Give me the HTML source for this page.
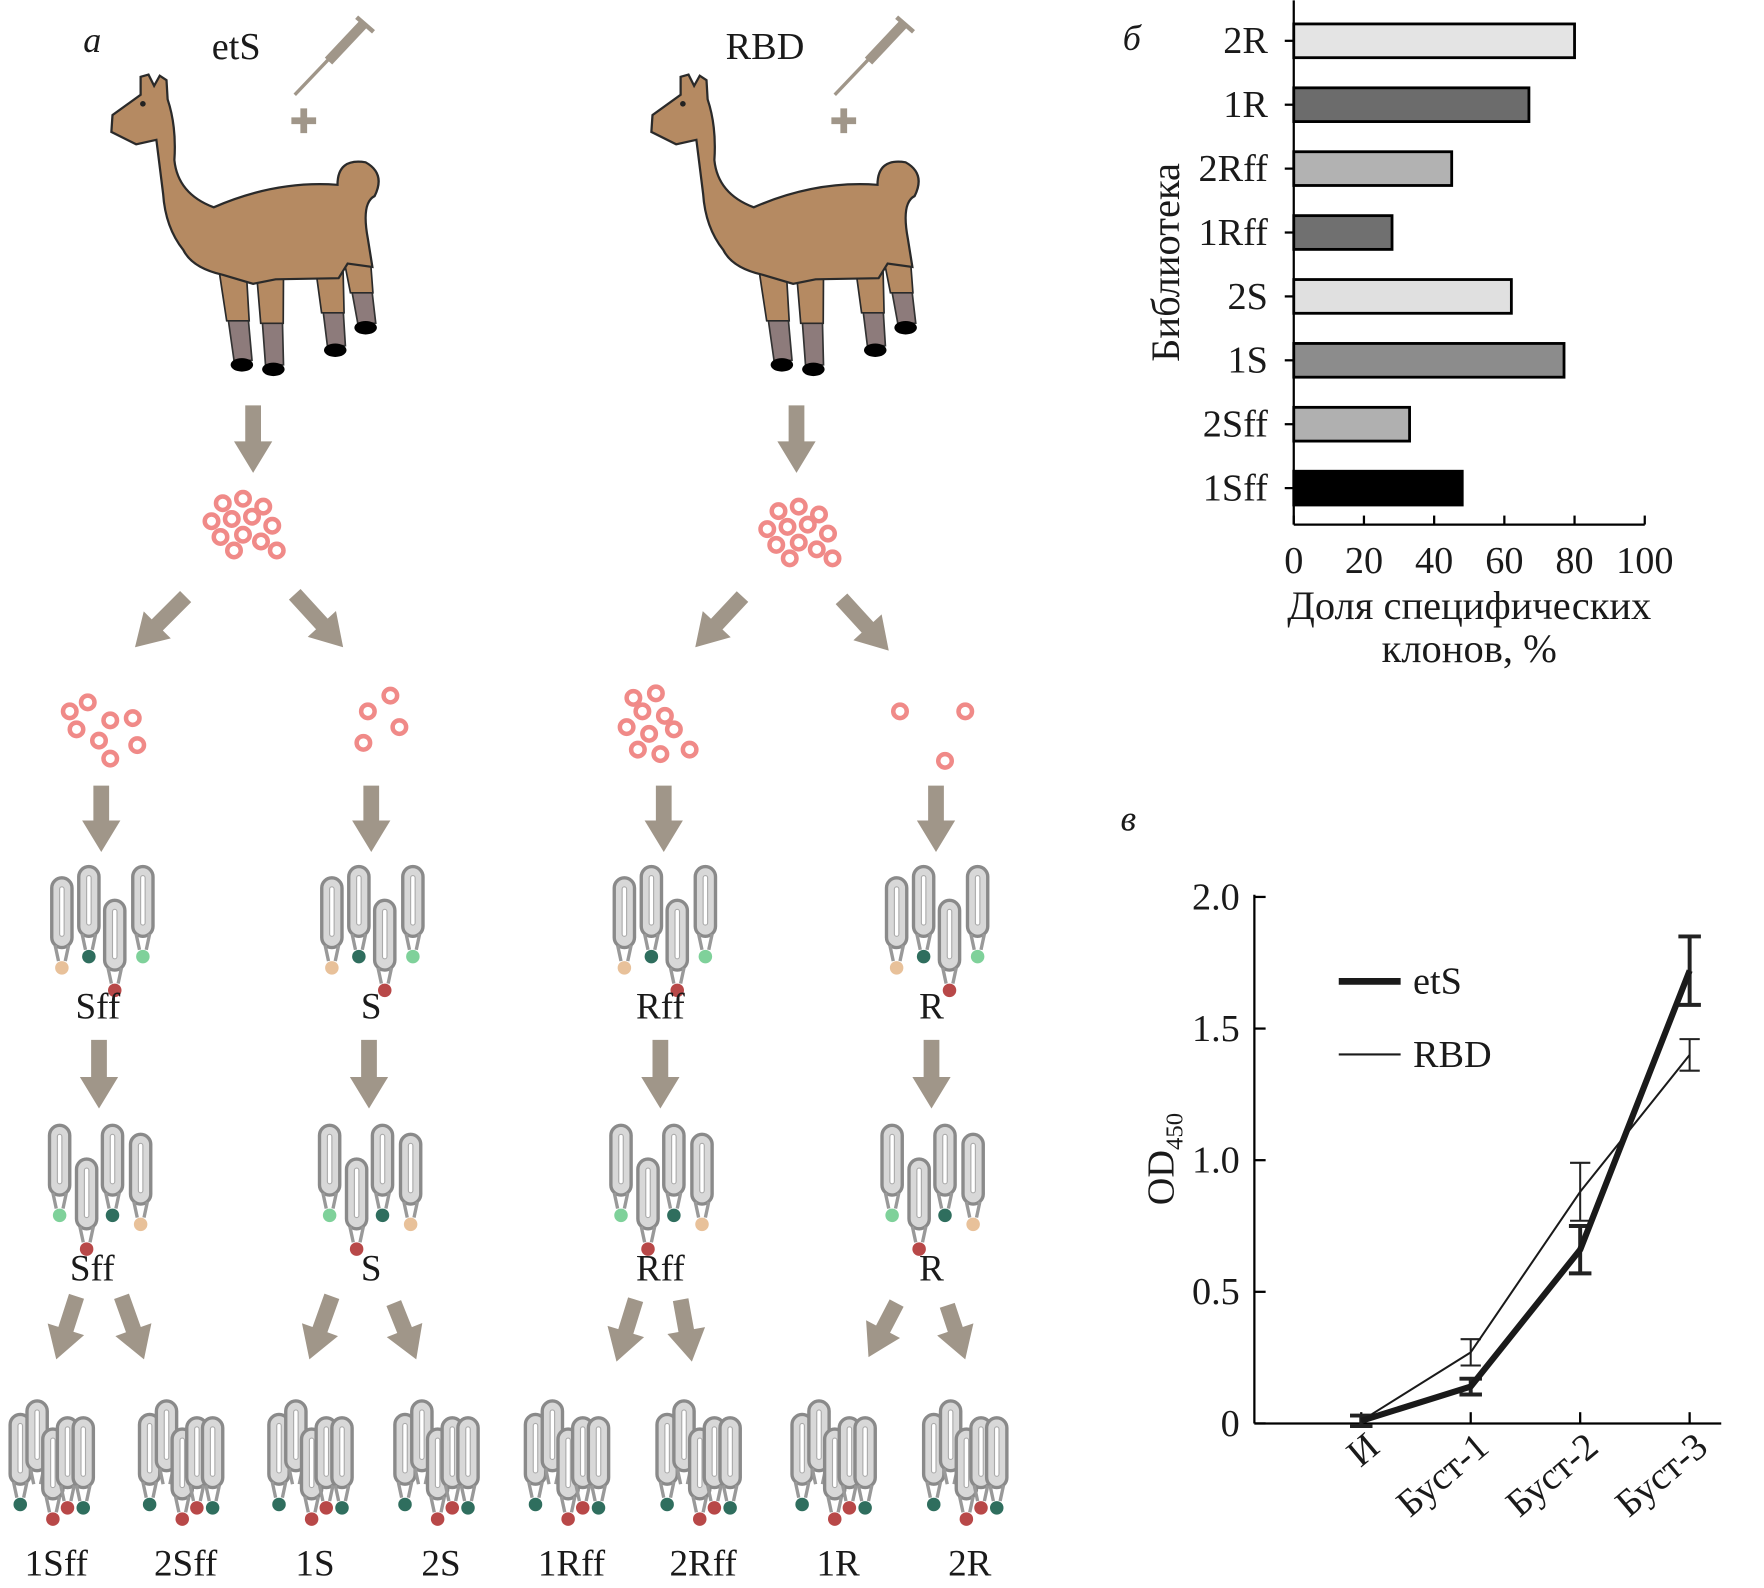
<!DOCTYPE html>
<html><head><meta charset="utf-8"><style>
html,body{margin:0;padding:0;background:#fff}
svg{display:block}
text{font-family:"Liberation Serif",serif;fill:#1a1a1a}
</style></head><body>
<svg id="s" width="1764" height="1588" viewBox="0 0 1568 1411" xmlns="http://www.w3.org/2000/svg">
<g id="schema"></g>
<g id="bars"></g>
<g id="lines"></g>
</svg>
<script>
// ---- bar chart data ----
const libs = ["2R","1R","2Rff","1Rff","2S","1S","2Sff","1Sff"];
const libValues = [80,67,45,28,62,77,33,48];
const libColors = ["#e4e4e4","#6c6c6c","#b2b2b2","#707070","#e0e0e0","#8c8c8c","#b0b0b0","#000000"];
const barTicks = [0,20,40,60,80,100];
// ---- line chart data ----
const stages = ["И","Буст-1","Буст-2","Буст-3"];
const etsValues = [0.01,0.14,0.66,1.72];
const etsErr = [0.02,0.03,0.09,0.13];
const rbdValues = [0.01,0.27,0.88,1.40];
const rbdErr = [0.02,0.05,0.11,0.06];
const odTicks = [0,0.5,1.0,1.5,2.0];
const odTickLabels = ["0","0.5","1.0","1.5","2.0"];

const NS="http://www.w3.org/2000/svg";
function mk(parent,tag,attrs,txt){const el=document.createElementNS(NS,tag);for(const k in attrs)el.setAttribute(k,attrs[k]);if(txt!==undefined)el.textContent=txt;parent.appendChild(el);return el;}

// ===== schema =====
const S=document.getElementById('schema');
const ARW="#a09689";
function text(x,y,t,size,name,anchor,style){const el=mk(S,'text',{x:x,y:y,'font-size':size,'text-anchor':anchor||'middle'},t);if(style)el.setAttribute('font-style',style);

return el;}
function arrow(x1,y1,x2,y2,name){
  const dx=x2-x1,dy=y2-y1,L=Math.hypot(dx,dy),ux=dx/L,uy=dy/L,px=-uy,py=ux;
  const sw=7,hw=17,hl=28;const bx=x2-ux*hl,by=y2-uy*hl;
  const pts=[[x1+px*sw,y1+py*sw],[bx+px*sw,by+py*sw],[bx+px*hw,by+py*hw],[x2,y2],[bx-px*hw,by-py*hw],[bx-px*sw,by-py*sw],[x1-px*sw,y1-py*sw]];
  const el=mk(S,'polygon',{points:pts.map(p=>p.join(',')).join(' '),fill:ARW});
  
  
}
function llama(ox,oy,name){
  const g=mk(S,'g',{transform:`translate(${ox},${oy})`});
  
  
  const legs=[[112,180,122,258],[145,180,150,262],[198,180,205,245],[222,165,232,225]];
  legs.forEach(l=>{
    mk(g,'path',{d:`M${l[0]-10} ${l[1]} L${l[2]-9} ${l[3]} L${l[2]+7} ${l[3]} L${l[0]+10} ${l[1]}Z`,fill:'#8d7b7b',stroke:'#333','stroke-width':1.5});
    const my=l[1]+(l[3]-l[1])*0.55, mx=l[0]+(l[2]-l[0])*0.55;
    mk(g,'path',{d:`M${l[0]-12} ${l[1]} L${mx-11} ${my} L${mx+9} ${my} L${l[0]+12} ${l[1]}Z`,fill:'#b58a62',stroke:'#2a2a2a','stroke-width':1.5});
    mk(g,'ellipse',{cx:l[2]-2,cy:l[3]+4,rx:10,ry:6,fill:'#000'});});
  mk(g,'path',{d:"M5 40 L30 22 L30 6 L37 4 L42 14 L47 5 L53 9 L54 26 Q62 50 60 80 Q63 110 95 122 Q150 98 205 102 Q205 78 230 82 Q248 92 238 112 Q226 118 232 150 L236 175 L214 172 L206 185 L150 186 L130 190 L103 182 Q76 176 68 160 Q52 140 50 110 L44 62 L26 66 L4 55 Z",fill:'#b58a62',stroke:'#2a2a2a','stroke-width':2});
  mk(g,'circle',{cx:32,cy:30,r:2.5,fill:'#222'});
}
function syringe(x,y,name){
  const g=mk(S,'g',{transform:`translate(${x},${y})`});
  
  
  mk(g,'line',{x1:0,y1:72,x2:40,y2:30,stroke:ARW,'stroke-width':3});
  mk(g,'line',{x1:30,y1:42,x2:62,y2:8,stroke:ARW,'stroke-width':9});
  mk(g,'line',{x1:55,y1:3,x2:70,y2:16,stroke:ARW,'stroke-width':4});
  mk(g,'path',{d:"M-3 95 h22 M8 84 v22",stroke:ARW,'stroke-width':6});
}
function cells(pts,cx,cy,name){
  const g=mk(S,'g',{transform:`translate(${cx},${cy})`});
  
  
  pts.forEach(p=>{mk(g,'circle',{cx:p[0],cy:p[1],r:6,fill:'none',stroke:'#f08a88','stroke-width':4});});
}
const bigCluster=[[-18,-18],[0,-22],[18,-15],[-28,-2],[-10,-4],[8,-6],[26,2],[-20,12],[0,10],[16,16],[-8,24],[30,24]];
function abGroup(cx,cy,spec,name){
  const g=mk(S,'g',{transform:`translate(${cx},${cy})`});
  
  
  spec.forEach(s=>{const [x,y,c]=s;
    mk(g,'rect',{x:x-9,y:y,width:18,height:62,rx:9,fill:'#d8d8d8',stroke:'#8a8a8a','stroke-width':3});
    mk(g,'rect',{x:x-2,y:y+8,width:4,height:44,rx:2,fill:'#fff',stroke:'#aaa','stroke-width':1});
    mk(g,'path',{d:`M${x-6} ${y+60} L${x-3} ${y+74} M${x+6} ${y+60} L${x+3} ${y+74}`,stroke:'#999','stroke-width':3});
    if(c)mk(g,'circle',{cx:x,cy:y+80,r:6,fill:c});});
}
const TAN="#e8c19a",DG="#2f6e5e",LG="#7fd19a",RD="#b84848";
const ab1=[[-27,10,TAN],[-3,0,DG],[20,30,RD],[45,0,LG]];
const ab2=[[-27,0,LG],[-3,30,RD],[20,0,DG],[45,8,TAN]];
function ab3(){return [[-30,12,DG],[-15,0,null],[-1,25,RD],[12,15,RD],[26,15,DG]];}

text(82,46,'а',32,'panel-a-label','middle','italic');
text(210,52,'etS',34,'ets-title');
text(680,52,'RBD',34,'rbd-title');
llama(95,62,'llama-ets');llama(575,62,'llama-rbd');
syringe(262,12,'syringe-ets');syringe(742,12,'syringe-rbd');
arrow(225,360,225,420,'arrow-down');arrow(708,360,708,420,'arrow-down');
cells(bigCluster,216,465,'b-cells-ets');cells(bigCluster,710,472,'b-cells-rbd');
arrow(165,530,120,575,'arrow-split');arrow(262,528,305,575,'arrow-split');
arrow(660,530,618,575,'arrow-split');arrow(748,532,790,578,'arrow-split');
cells([[-28,-18],[-12,-26],[8,-10],[28,-12],[-22,-2],[-2,8],[32,12],[8,24]],90,650,'cells-sff');
cells([[12,-32],[-8,-18],[20,-4],[-12,10]],335,650,'cells-s');
cells([[-22,-30],[-2,-34],[-14,-18],[6,-14],[-28,-4],[-8,2],[14,-2],[-18,16],[2,20],[28,16]],585,650,'cells-rff');
cells([[-30,-18],[28,-18],[10,26]],830,650,'cells-r');
const cx4=[90,330,590,832];
cx4.forEach(x=>arrow(x,698,x,757,'arrow-down'));
cx4.forEach(x=>abGroup(x-8,770,ab1,'antibody-library-1'));
const libNames1=['Sff','S','Rff','R'],lblX1=[87,330,587,828];
libNames1.forEach((t,i)=>text(lblX1[i],905,t,33,'label-'+t));
const cx5=[88,328,587,828];
cx5.forEach(x=>arrow(x,924,x,985,'arrow-down'));
cx5.forEach(x=>abGroup(x-8,1000,ab2,'antibody-library-2'));
const lblX2=[82,330,587,828];
libNames1.forEach((t,i)=>text(lblX2[i],1138,t,33,'label-'+t+'-2'));
[[68,1152,50,1208],[108,1152,128,1208],[295,1152,275,1208],[350,1158,370,1208],[565,1155,548,1210],[605,1155,615,1210],[797,1158,772,1206],[842,1160,858,1208]].forEach(a=>arrow(a[0],a[1],a[2],a[3],'arrow-diag'));
const fx=[50,165,280,392,508,625,745,862];
const fl=['1Sff','2Sff','1S','2S','1Rff','2Rff','1R','2R'];
fx.forEach((x,i)=>{abGroup(x-2,1245,ab3(),'final-library-'+fl[i]);text(x,1400,fl[i],33,'label-'+fl[i]);});

// ===== bar chart =====
const B=document.getElementById('bars');
const bx0=1150,bx1=1462,yTop=0,yBot=466;
const xb=v=>bx0+(bx1-bx0)*v/100;
const rowY=i=>36+i*56.8;
let e;
e=mk(B,'line',{x1:bx0,y1:yTop,x2:bx0,y2:yBot,stroke:'#000','stroke-width':2});


e=mk(B,'line',{x1:bx0,y1:yBot,x2:bx1,y2:yBot,stroke:'#000','stroke-width':2});


barTicks.forEach(t=>{mk(B,'line',{x1:xb(t),y1:yBot,x2:xb(t),y2:yBot-8,stroke:'#000','stroke-width':2});
  e=mk(B,'text',{x:xb(t),y:509,'font-size':34,'text-anchor':'middle'},t);
  
  });
libs.forEach((l,i)=>{const y=rowY(i);
  mk(B,'line',{x1:bx0-8,y1:y,x2:bx0,y2:y,stroke:'#000','stroke-width':2});
  e=mk(B,'rect',{x:bx0,y:y-15,width:xb(libValues[i])-bx0,height:30,fill:libColors[i],stroke:'#000','stroke-width':2.5});
  
  
  e=mk(B,'text',{x:1127,y:y+11,'font-size':34,'text-anchor':'end'},l);
  
  });
e=mk(B,'text',{x:998,y:44,'font-size':32,'font-style':'italic'},'б');


e=mk(B,'text',{x:0,y:0,'font-size':36,'text-anchor':'middle',transform:'translate(1048,233) rotate(-90)'},'Библиотека');


e=mk(B,'text',{x:1306,y:550,'font-size':36,'text-anchor':'middle'},'Доля специфических');


e=mk(B,'text',{x:1306,y:588,'font-size':36,'text-anchor':'middle'},'клонов, %');



// ===== line chart =====
const Lg=document.getElementById('lines');
const lx0=1115,lx1=1530,ly0=1265,ly1=797;
const yl=v=>ly0-(ly0-ly1)*v/2.0;
const xl=i=>1210+i*97.3;
e=mk(Lg,'line',{x1:lx0,y1:ly1-2,x2:lx0,y2:ly0,stroke:'#000','stroke-width':2});


e=mk(Lg,'line',{x1:lx0,y1:ly0,x2:lx1,y2:ly0,stroke:'#000','stroke-width':2});


odTicks.forEach((t,i)=>{mk(Lg,'line',{x1:lx0,y1:yl(t),x2:lx0+10,y2:yl(t),stroke:'#000','stroke-width':2});
  e=mk(Lg,'text',{x:1102,y:yl(t)+11,'font-size':34,'text-anchor':'end'},odTickLabels[i]);
  
  });
stages.forEach((s,i)=>{mk(Lg,'line',{x1:xl(i),y1:ly0,x2:xl(i),y2:ly0-10,stroke:'#000','stroke-width':2});
  e=mk(Lg,'text',{x:0,y:0,'font-size':34,'text-anchor':'end',transform:`translate(${xl(i)+18},${ly0+24}) rotate(-40)`},s);
  
  });
function series(vals,errs,w,cap,name){
  const d=vals.map((v,i)=>(i?'L':'M')+xl(i)+' '+yl(v)).join(' ');
  errs.forEach((er,i)=>{const x=xl(i);
    mk(Lg,'path',{d:`M${x} ${yl(vals[i]-er)} V${yl(vals[i]+er)} M${x-cap} ${yl(vals[i]-er)} h${2*cap} M${x-cap} ${yl(vals[i]+er)} h${2*cap}`,stroke:'#222','stroke-width':w>3?3.5:1.8,fill:'none'});});
  const p=mk(Lg,'path',{d:d,stroke:'#1a1a1a','stroke-width':w,fill:'none','stroke-linejoin':'round'});
  
  
}
series(rbdValues,rbdErr,1.8,9,'line-rbd');
series(etsValues,etsErr,5.5,10,'line-ets');
e=mk(Lg,'line',{x1:1190,y1:872,x2:1245,y2:872,stroke:'#1a1a1a','stroke-width':6});


e=mk(Lg,'text',{x:1256,y:883,'font-size':34},'etS');


e=mk(Lg,'line',{x1:1190,y1:937,x2:1245,y2:937,stroke:'#1a1a1a','stroke-width':1.8});


e=mk(Lg,'text',{x:1256,y:948,'font-size':34},'RBD');


e=mk(Lg,'text',{x:996,y:738,'font-size':32,'font-style':'italic'},'в');


const yt=mk(Lg,'text',{x:0,y:0,'font-size':34,'text-anchor':'middle',transform:'translate(1043,1030) rotate(-90)'});


mk(yt,'tspan',{},'OD');mk(yt,'tspan',{'font-size':22,dy:8},'450');
</script>
</body></html>
